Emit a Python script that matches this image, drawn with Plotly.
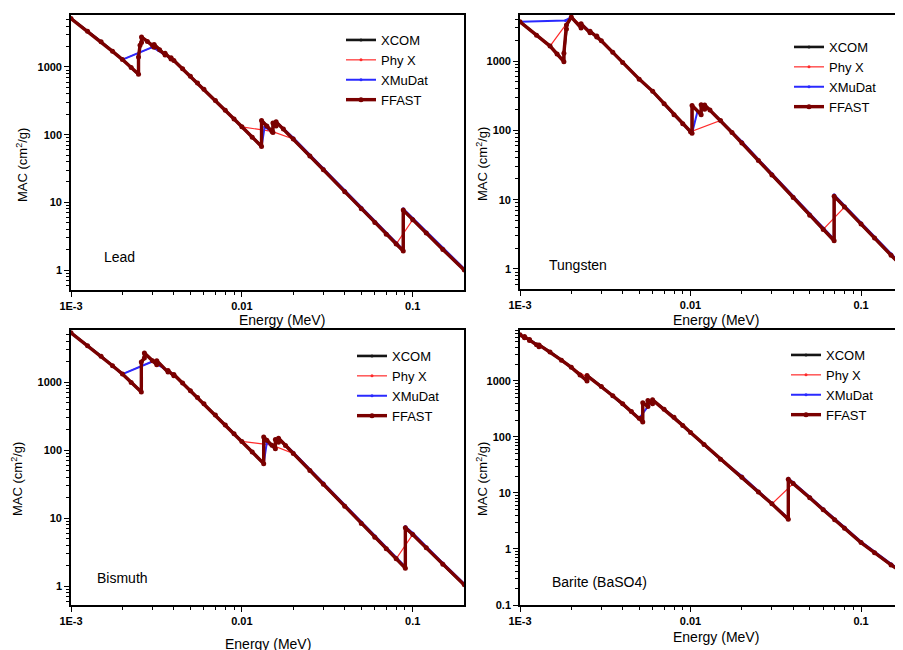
import plotly.graph_objects as go

# ---------------- data (energy in MeV, MAC in cm2/g) ----------------
series_names = ["XCOM", "Phy X", "XMuDat", "FFAST"]
panel_labels = ["Lead", "Tungsten", "Bismuth", "Barite (BaSO4)"]
x_tick_vals = [0.001, 0.01, 0.1]
x_tick_text = ["1E-3", "0.01", "0.1"]
y_tick_vals = [0.1, 1, 10, 100, 1000]
y_tick_text = ["0.1", "1", "10", "100", "1000"]

# Lead
pb_xcom_e = [0.001, 0.0015, 0.002, 0.002484, 0.002484, 0.002535, 0.002586, 0.002586, 0.003, 0.003066, 0.003066, 0.0033, 0.003554, 0.003554, 0.003851, 0.003851, 0.004, 0.005, 0.006, 0.008, 0.01, 0.013035, 0.013035, 0.015, 0.0152, 0.0152, 0.01586, 0.01586, 0.02, 0.03, 0.04, 0.05, 0.06, 0.08, 0.088, 0.088, 0.1, 0.15, 0.2]
pb_xcom_v = [5210, 2356, 1285, 780, 1400, 2100, 2300, 2770, 2100, 1960, 2150, 1800, 1500, 1590, 1310, 1370, 1250, 730, 467, 229, 130.6, 67, 162, 111.6, 107.8, 148.5, 134.4, 154.8, 86.4, 30.3, 14.4, 8.04, 5.02, 2.42, 1.91, 7.68, 5.55, 2.01, 1.0]
pb_phyx_e = [0.001, 0.0015, 0.002, 0.003, 0.004, 0.005, 0.006, 0.008, 0.01, 0.015, 0.02, 0.03, 0.04, 0.05, 0.06, 0.08, 0.1, 0.15, 0.2]
pb_phyx_v = [5210, 2356, 1285, 1965, 1251, 730, 467, 229, 130.6, 111.6, 86.4, 30.3, 14.4, 8.04, 5.02, 2.42, 5.55, 2.01, 1.0]
pb_xmu_e = [0.001, 0.0015, 0.002, 0.003, 0.004, 0.005, 0.006, 0.008, 0.01, 0.013035, 0.0136, 0.015, 0.0152, 0.0152, 0.01586, 0.01586, 0.02, 0.03, 0.04, 0.05, 0.06, 0.08, 0.088, 0.088, 0.1, 0.15, 0.2]
pb_xmu_v = [5210, 2356, 1285, 1965, 1251, 730, 467, 229, 130.6, 67, 130, 111.6, 107.8, 148.5, 134.4, 154.8, 90, 31.8, 15.1, 8.45, 5.27, 2.54, 2.0, 8.05, 5.83, 2.11, 1.05]
pb_ffast_e = [0.001, 0.00125, 0.0015, 0.00175, 0.002, 0.00225, 0.002484, 0.002484, 0.002535, 0.002586, 0.002586, 0.0028, 0.003, 0.003066, 0.003066, 0.0033, 0.003554, 0.003554, 0.003851, 0.003851, 0.004, 0.0045, 0.005, 0.0055, 0.006, 0.007, 0.008, 0.009, 0.01, 0.0115, 0.013035, 0.013035, 0.014, 0.015, 0.0152, 0.0152, 0.01586, 0.01586, 0.0175, 0.02, 0.025, 0.03, 0.04, 0.05, 0.06, 0.07, 0.08, 0.088, 0.088, 0.1, 0.12, 0.15, 0.2]
pb_ffast_v = [5210, 3365, 2356, 1703, 1285, 980, 780, 1400, 2100, 2300, 2770, 2388, 2100, 1960, 2150, 1800, 1500, 1590, 1310, 1370, 1250, 941, 730, 578, 467, 319, 229, 170, 130.6, 91.9, 67, 162, 134, 111.6, 107.8, 148.5, 134.4, 154.8, 120.9, 86.4, 48.5, 30.3, 14.4, 8.04, 5.02, 3.39, 2.42, 1.91, 7.68, 5.55, 3.52, 2.01, 1.0]

# Tungsten
w_xcom_e = [0.001, 0.0015, 0.001809, 0.001809, 0.001872, 0.001872, 0.002, 0.002281, 0.002281, 0.002575, 0.002575, 0.00282, 0.00282, 0.003, 0.004, 0.005, 0.006, 0.008, 0.01, 0.010207, 0.010207, 0.011544, 0.011544, 0.0121, 0.0121, 0.015, 0.02, 0.03, 0.04, 0.05, 0.06, 0.069525, 0.069525, 0.08, 0.1, 0.15, 0.2]
w_xcom_v = [3683, 1643, 980, 1300, 2900, 3300, 4300, 3000, 3450, 2550, 2690, 2220, 2300, 1956, 956, 548, 365, 168, 95.6, 90.7, 229, 168, 234, 201, 233, 138.6, 65.7, 22.7, 10.7, 5.95, 3.71, 2.55, 11.23, 7.81, 4.44, 1.58, 0.784]
w_phyx_e = [0.001, 0.0015, 0.002, 0.003, 0.004, 0.005, 0.006, 0.008, 0.01, 0.015, 0.02, 0.03, 0.04, 0.05, 0.06, 0.08, 0.1, 0.15, 0.2]
w_phyx_v = [3683, 1643, 4300, 1956, 956, 548, 365, 168, 95.6, 138.6, 65.7, 22.7, 10.7, 5.95, 3.71, 7.81, 4.44, 1.58, 0.784]
w_xmu_e = [0.001, 0.00185, 0.002, 0.002281, 0.002281, 0.003, 0.004, 0.005, 0.006, 0.008, 0.01, 0.010207, 0.011, 0.011544, 0.011544, 0.0121, 0.0121, 0.015, 0.02, 0.03, 0.04, 0.05, 0.06, 0.069525, 0.069525, 0.08, 0.1, 0.15, 0.2]
w_xmu_v = [3683, 3850, 4300, 3000, 3450, 1956, 956, 548, 365, 168, 95.6, 90.7, 190, 168, 234, 201, 233, 138.6, 69, 23.8, 11.2, 6.25, 3.9, 2.68, 11.8, 8.2, 4.66, 1.66, 0.82]
w_ffast_e = [0.001, 0.00125, 0.0015, 0.00165, 0.001809, 0.001809, 0.001872, 0.001872, 0.002, 0.002281, 0.002281, 0.002575, 0.002575, 0.00282, 0.00282, 0.003, 0.0035, 0.004, 0.005, 0.006, 0.007, 0.008, 0.009, 0.01, 0.010207, 0.010207, 0.011544, 0.011544, 0.0121, 0.0121, 0.013, 0.015, 0.0175, 0.02, 0.025, 0.03, 0.04, 0.05, 0.06, 0.069525, 0.069525, 0.08, 0.1, 0.12, 0.15, 0.2]
w_ffast_v = [3683, 2361, 1643, 1263, 980, 1300, 2900, 3300, 4300, 3000, 3450, 2550, 2690, 2220, 2300, 1956, 1333, 956, 548, 365, 241, 168, 124.7, 95.6, 90.7, 229, 168, 234, 201, 233, 196, 138.6, 92.9, 65.7, 36.6, 22.7, 10.7, 5.95, 3.71, 2.55, 11.23, 7.81, 4.44, 2.79, 1.58, 0.784]

# Bismuth
bi_xcom_e = [0.001, 0.0015, 0.002, 0.00258, 0.00258, 0.002688, 0.002688, 0.003, 0.003177, 0.003177, 0.003696, 0.003696, 0.003999, 0.003999, 0.005, 0.006, 0.008, 0.01, 0.013419, 0.013419, 0.015, 0.015711, 0.015711, 0.016388, 0.016388, 0.02, 0.03, 0.04, 0.05, 0.06, 0.08, 0.090526, 0.090526, 0.1, 0.15, 0.2]
bi_xcom_v = [5297, 2399, 1310, 713, 1970, 2250, 2670, 2050, 1800, 2050, 1400, 1480, 1240, 1290, 745, 478, 234, 134, 63, 155, 117.7, 104, 142.7, 130, 149, 89, 31.3, 14.9, 8.34, 5.21, 2.51, 1.83, 7.17, 5.74, 2.09, 1.04]
bi_phyx_e = [0.001, 0.0015, 0.002, 0.003, 0.004, 0.005, 0.006, 0.008, 0.01, 0.015, 0.02, 0.03, 0.04, 0.05, 0.06, 0.08, 0.1, 0.15, 0.2]
bi_phyx_v = [5297, 2399, 1310, 2006, 1290, 745, 478, 234, 134, 117.7, 89, 31.3, 14.9, 8.34, 5.21, 2.51, 5.74, 2.09, 1.04]
bi_xmu_e = [0.001, 0.0015, 0.002, 0.003, 0.004, 0.005, 0.006, 0.008, 0.01, 0.013419, 0.014, 0.015711, 0.015711, 0.016388, 0.016388, 0.02, 0.03, 0.04, 0.05, 0.06, 0.08, 0.090526, 0.090526, 0.1, 0.15, 0.2]
bi_xmu_v = [5297, 2399, 1310, 2006, 1290, 745, 478, 234, 134, 63, 130, 104, 142.7, 130, 149, 93, 32.9, 15.6, 8.75, 5.47, 2.64, 1.92, 7.53, 6.03, 2.19, 1.09]
bi_ffast_e = [0.001, 0.00125, 0.0015, 0.00175, 0.002, 0.00225, 0.00258, 0.00258, 0.002688, 0.002688, 0.003, 0.003177, 0.003177, 0.003696, 0.003696, 0.003999, 0.003999, 0.0045, 0.005, 0.0055, 0.006, 0.007, 0.008, 0.009, 0.01, 0.0115, 0.013419, 0.013419, 0.014, 0.015, 0.015711, 0.015711, 0.016388, 0.016388, 0.018, 0.02, 0.025, 0.03, 0.04, 0.05, 0.06, 0.07, 0.08, 0.090526, 0.090526, 0.1, 0.12, 0.15, 0.2]
bi_ffast_v = [5297, 3425, 2399, 1735, 1310, 988, 713, 1970, 2250, 2670, 2050, 1800, 2050, 1400, 1480, 1240, 1290, 965, 745, 591, 478, 326, 234, 174, 134, 93.6, 63, 155, 139.6, 117.7, 104, 142.7, 130, 149, 117, 89, 50.1, 31.3, 14.9, 8.34, 5.21, 3.52, 2.51, 1.83, 7.17, 5.74, 3.64, 2.09, 1.04]

# Barite (BaSO4)
ba_xcom_e = [0.001, 0.001063, 0.001063, 0.001137, 0.001137, 0.001293, 0.001293, 0.0015, 0.002, 0.002472, 0.002472, 0.003, 0.004, 0.005, 0.005247, 0.005247, 0.005624, 0.005624, 0.005989, 0.005989, 0.006, 0.008, 0.01, 0.015, 0.02, 0.03, 0.037441, 0.037441, 0.04, 0.05, 0.06, 0.08, 0.1, 0.15, 0.2]
ba_xcom_v = [6700, 5900, 6200, 5300, 5500, 4100, 4400, 3300, 1750, 1000, 1250, 800, 390, 215, 185, 410, 350, 450, 390, 460, 458, 225, 120, 40, 19, 6.4, 3.4, 17.5, 14.8, 8.2, 5.0, 2.35, 1.3, 0.52, 0.29]
ba_phyx_e = [0.001, 0.0015, 0.002, 0.003, 0.004, 0.005, 0.006, 0.008, 0.01, 0.015, 0.02, 0.03, 0.04, 0.05, 0.06, 0.08, 0.1, 0.15, 0.2]
ba_phyx_v = [6700, 3300, 1750, 800, 390, 215, 458, 225, 120, 40, 19, 6.4, 14.8, 8.2, 5.0, 2.35, 1.3, 0.52, 0.29]
ba_xmu_e = [0.001, 0.0015, 0.002, 0.002472, 0.002472, 0.003, 0.004, 0.005, 0.006, 0.008, 0.01, 0.015, 0.02, 0.03, 0.037441, 0.037441, 0.04, 0.05, 0.06, 0.08, 0.1, 0.15, 0.2]
ba_xmu_v = [6700, 3300, 1750, 1000, 1250, 800, 390, 215, 458, 225, 120, 40, 20, 6.7, 3.55, 18.3, 15.5, 8.6, 5.25, 2.47, 1.36, 0.545, 0.305]
ba_ffast_e = [0.001, 0.001063, 0.001063, 0.001137, 0.001137, 0.00125, 0.001293, 0.001293, 0.0015, 0.00175, 0.002, 0.00225, 0.002472, 0.002472, 0.003, 0.0035, 0.004, 0.0045, 0.005, 0.005247, 0.005247, 0.005624, 0.005624, 0.005989, 0.005989, 0.007, 0.008, 0.009, 0.01, 0.012, 0.015, 0.02, 0.025, 0.03, 0.037441, 0.037441, 0.04, 0.05, 0.06, 0.07, 0.08, 0.1, 0.12, 0.15, 0.2]
ba_ffast_v = [6700, 5900, 6200, 5300, 5500, 4433, 4100, 4400, 3300, 2350, 1750, 1282, 1000, 1250, 800, 544, 390, 285, 215, 185, 410, 350, 450, 390, 460, 313, 225, 161, 120, 73.2, 40, 19, 10.4, 6.4, 3.4, 17.5, 14.8, 8.2, 5.0, 3.34, 2.35, 1.3, 0.861, 0.52, 0.29]

panel_data = [
    [(pb_xcom_e, pb_xcom_v), (pb_phyx_e, pb_phyx_v), (pb_xmu_e, pb_xmu_v), (pb_ffast_e, pb_ffast_v)],
    [(w_xcom_e, w_xcom_v), (w_phyx_e, w_phyx_v), (w_xmu_e, w_xmu_v), (w_ffast_e, w_ffast_v)],
    [(bi_xcom_e, bi_xcom_v), (bi_phyx_e, bi_phyx_v), (bi_xmu_e, bi_xmu_v), (bi_ffast_e, bi_ffast_v)],
    [(ba_xcom_e, ba_xcom_v), (ba_phyx_e, ba_phyx_v), (ba_xmu_e, ba_xmu_v), (ba_ffast_e, ba_ffast_v)],
]

# ---------------- styling ----------------
OFF = 8  # page body margin offset of the rendered figure
W, H = 903 - OFF, 650 - OFF
FONT = "Liberation Sans, Arial, Helvetica, sans-serif"
colors = ["#151515", "#ff2a2a", "#2a2aff", "#7a0000"]
widths = [2.6, 1.2, 2.0, 3.4]
msizes = [3, 3, 3, 5]

# plot areas in screen pixels: (left, right, top, bottom)
boxes = [(71, 464, 15, 290), (520, 903, 15, 289), (71, 464, 330, 605), (520, 903, 330, 605)]
x_ranges = [[-3, -0.70], [-3, -0.754], [-3, -0.70], [-3, -0.754]]
y_ranges = [[-0.295, 3.768], [-0.289, 3.664], [-0.279, 3.765], [-1.0, 3.91]]
ytitle_pos = [(22, 165), (482, 164), (17, 479), (482, 479)]
xtitle_pos = [(282, 320), (716, 320), (268, 644), (716, 637)]
label_pos = [(102, 257), (547, 265), (95, 578), (550, 582)]
legend_pos = [(347, 36), (795, 43), (358, 352), (792, 351)]

def px(x):
    return (x - OFF) / W

def py(y):
    return 1 - (y - OFF) / H

minor_x = [m * 10 ** k for k in (-3, -2, -1) for m in range(2, 10)]
minor_y = [m * 10 ** k for k in (-1, 0, 1, 2, 3) for m in range(2, 10)]

fig = go.Figure()
layout = dict(width=W, height=H, margin=dict(l=0, r=0, t=0, b=0, pad=0, autoexpand=False),
              paper_bgcolor="white", plot_bgcolor="white", showlegend=True,
              font=dict(family=FONT, color="black"))
annotations = []

for i in range(4):
    sfx = "" if i == 0 else str(i + 1)
    leg = "legend" if i == 0 else "legend" + str(i + 1)
    for j, name in enumerate(series_names):
        e, v = panel_data[i][j]
        fig.add_trace(go.Scatter(
            x=e, y=v, name=name, mode="lines+markers",
            line=dict(color=colors[j], width=widths[j]),
            marker=dict(color=colors[j], size=msizes[j], symbol="circle"),
            xaxis="x" + sfx, yaxis="y" + sfx, legend=leg))
    l, r, t, b = boxes[i]
    layout["xaxis" + sfx] = dict(
        type="log", domain=[px(l), min(px(r), 1.0)], range=x_ranges[i], anchor="y" + sfx,
        automargin=False,
        tickmode="array", tickvals=x_tick_vals, ticktext=x_tick_text,
        ticks="outside", ticklen=5, tickwidth=1.3, tickcolor="black",
        minor=dict(tickmode="array", tickvals=minor_x, ticks="outside", ticklen=3,
                   tickwidth=1, tickcolor="black", showgrid=False),
        showline=True, linecolor="black", linewidth=1.6, mirror=True,
        showgrid=False, zeroline=False,
        tickfont=dict(family=FONT, size=11, color="black", weight="bold"))
    layout["yaxis" + sfx] = dict(
        type="log", domain=[max(py(b), 0.0), py(t)], range=y_ranges[i], anchor="x" + sfx,
        automargin=False,
        tickmode="array", tickvals=y_tick_vals, ticktext=y_tick_text,
        ticks="outside", ticklen=5, tickwidth=1.3, tickcolor="black",
        minor=dict(tickmode="array", tickvals=minor_y, ticks="outside", ticklen=3,
                   tickwidth=1, tickcolor="black", showgrid=False),
        showline=True, linecolor="black", linewidth=1.6, mirror=True,
        showgrid=False, zeroline=False,
        tickfont=dict(family=FONT, size=11, color="black", weight="bold"))
    lx, ly = legend_pos[i]
    layout[leg] = dict(x=px(lx - 6), y=py(ly - 11), xanchor="left", yanchor="top",
                       bgcolor="rgba(0,0,0,0)", borderwidth=0,
                       font=dict(family=FONT, size=13, color="black"),
                       tracegroupgap=0, itemwidth=30)
    yx, yy = ytitle_pos[i]
    annotations.append(dict(text="MAC (cm<sup>2</sup>/g)", x=px(yx), y=py(yy), xref="paper", yref="paper",
                            showarrow=False, textangle=-90, xanchor="center", yanchor="middle",
                            font=dict(family=FONT, size=13, color="black")))
    xx, xy = xtitle_pos[i]
    annotations.append(dict(text="Energy (MeV)", x=px(xx), y=py(xy), xref="paper", yref="paper",
                            showarrow=False, xanchor="center", yanchor="middle",
                            font=dict(family=FONT, size=14, color="black")))
    sx, sy = label_pos[i]
    annotations.append(dict(text=panel_labels[i], x=px(sx), y=py(sy), xref="paper", yref="paper",
                            showarrow=False, xanchor="left", yanchor="middle",
                            font=dict(family=FONT, size=14, color="black")))

layout["annotations"] = annotations
fig.update_layout(**layout)
fig.write_html("out.html")
